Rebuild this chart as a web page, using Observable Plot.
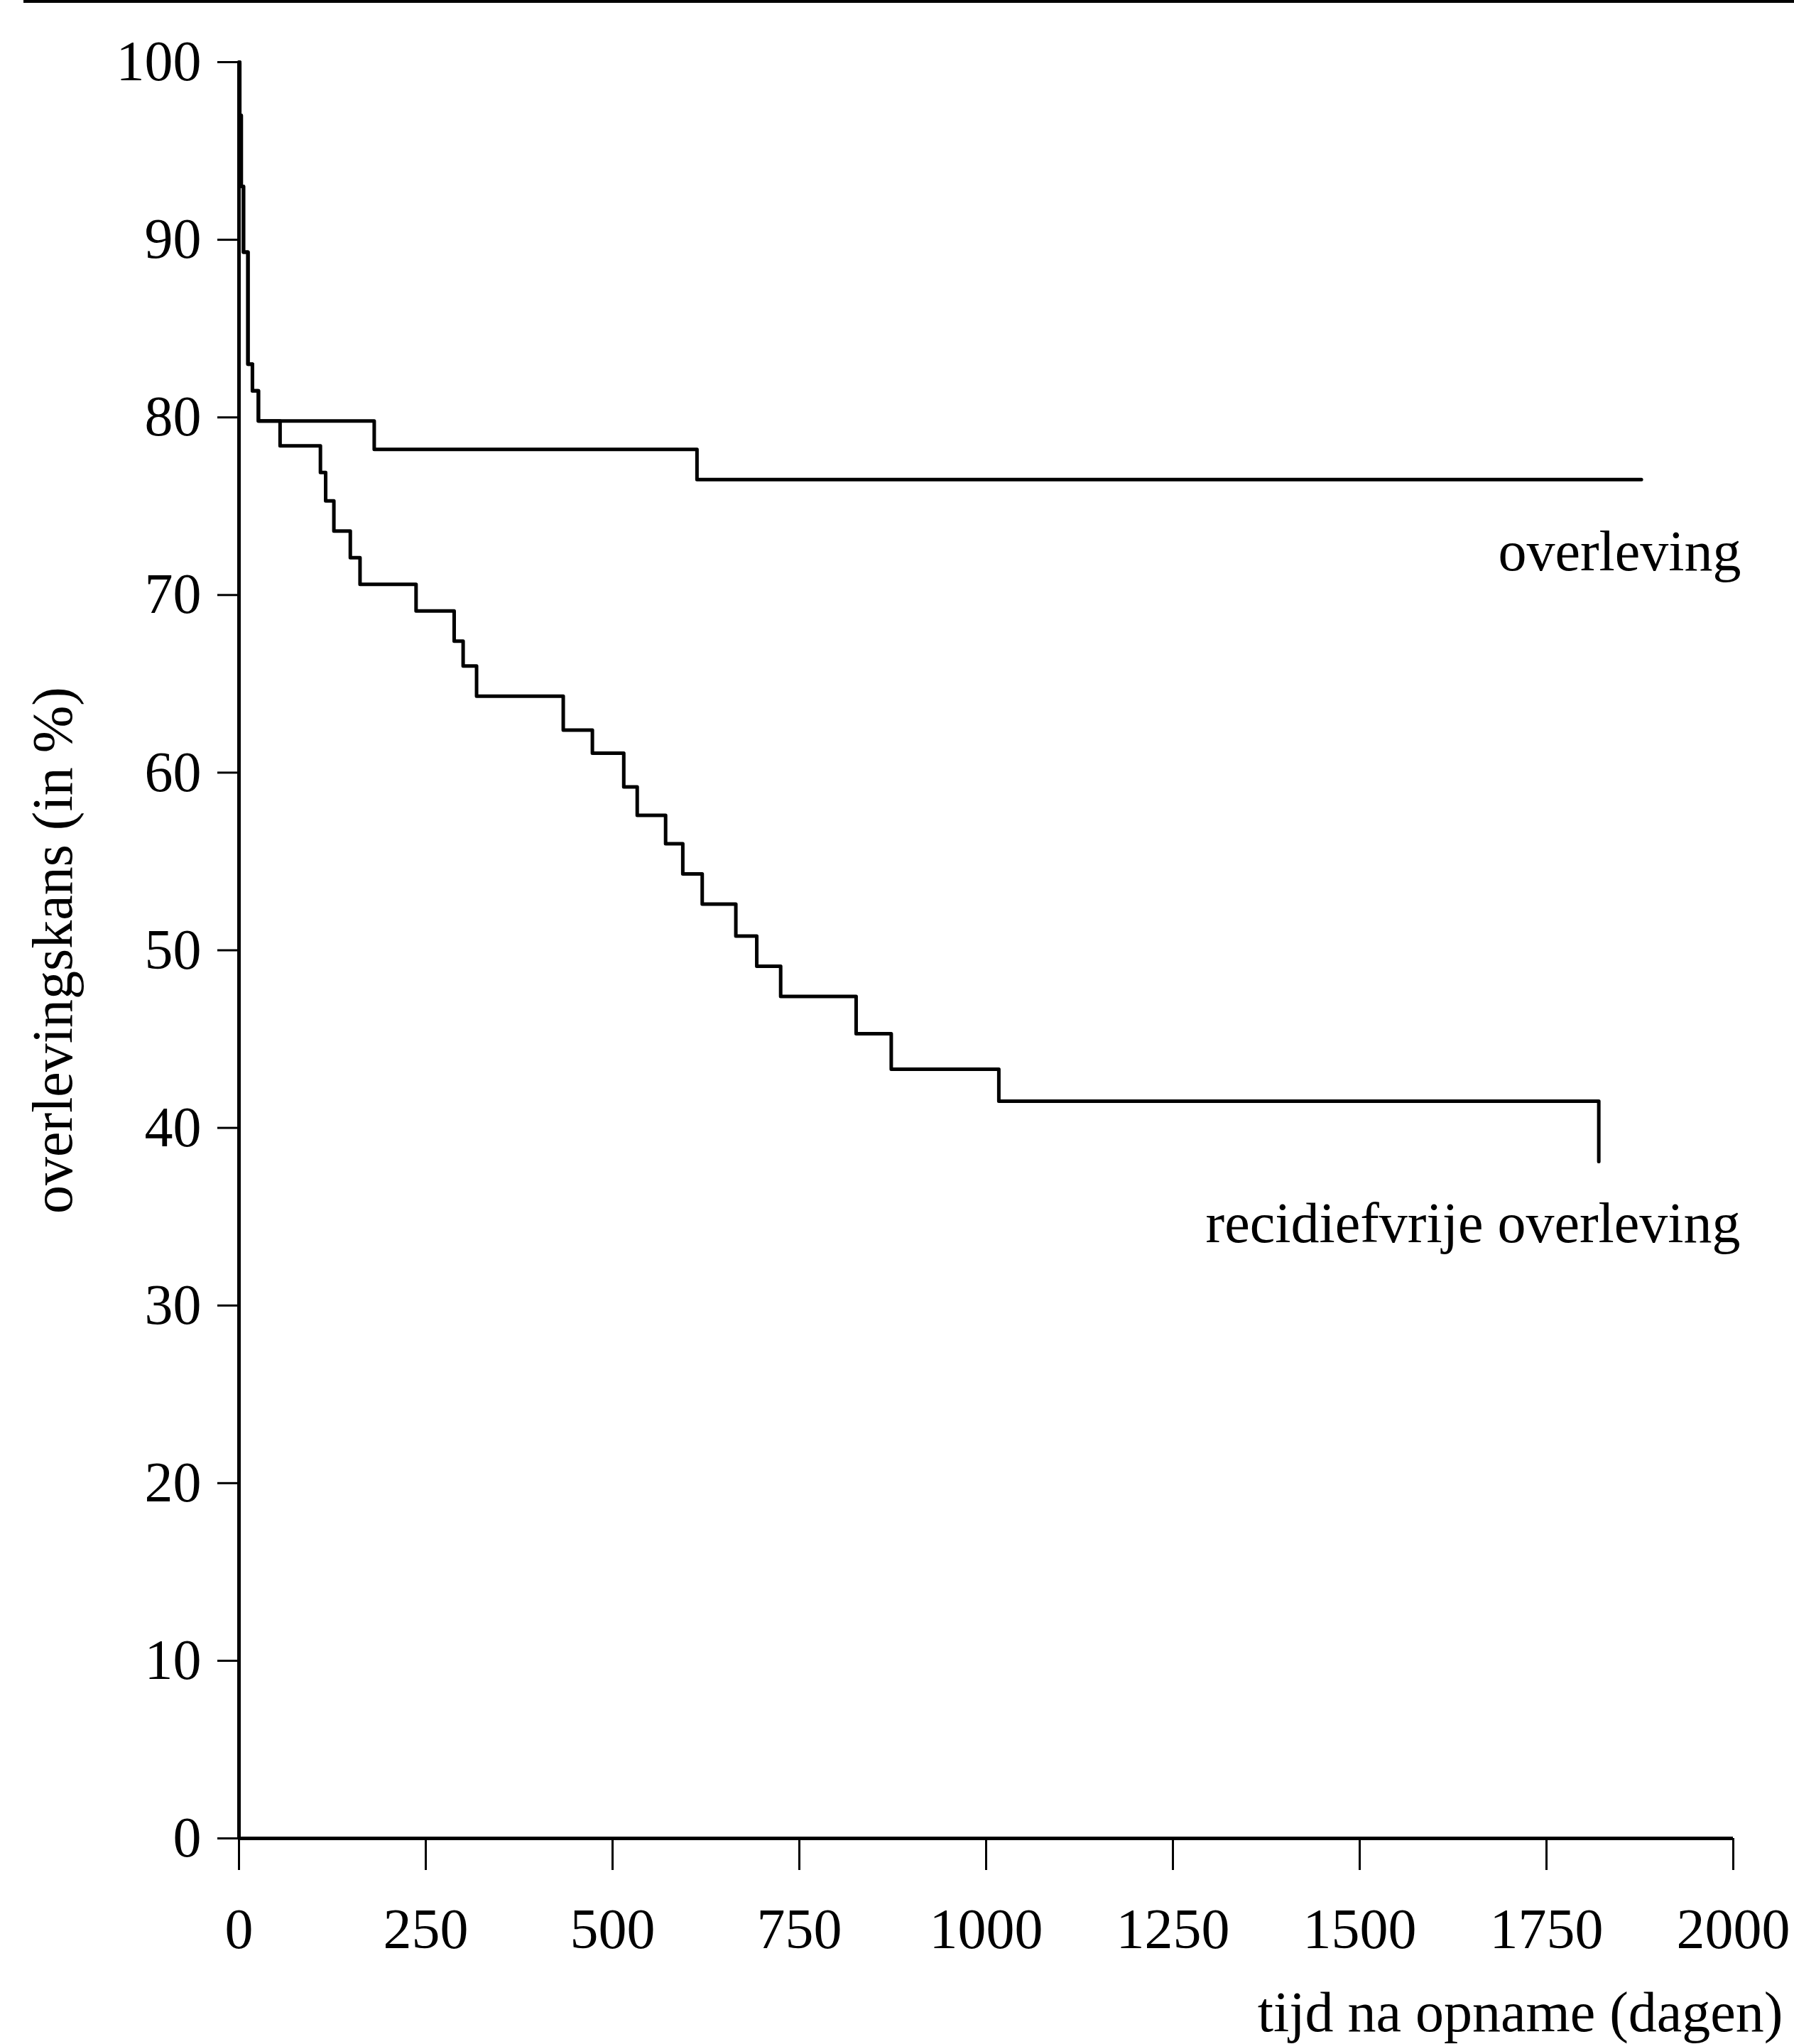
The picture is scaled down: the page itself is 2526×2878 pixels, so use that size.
<!DOCTYPE html>
<html>
<head>
<meta charset="utf-8">
<script src="https://cdn.jsdelivr.net/npm/d3@7"></script>
<script src="https://cdn.jsdelivr.net/npm/@observablehq/plot@0.6"></script>
<style>
  html, body { margin: 0; padding: 0; background: #fff; overflow: hidden; }
  #wrap { position: relative; width: 2526px; height: 2878px; }
  #pagerule { position: absolute; left: 33px; right: 0; top: 0; height: 4px; background: #000; }
  svg { display: block; }
</style>
</head>
<body>
<div id="wrap"><div id="pagerule"></div><div id="chart"></div></div>
<script>
// ---- data ----
const overlevingDays = [0, 1, 3, 6, 12, 18, 26, 181, 613, 1877];
const overlevingPct  = [100, 97, 93, 89.3, 83, 81.5, 79.8, 78.2, 76.5, 76.5];

const recidiefDays = [0, 1, 3, 6, 12, 18, 26, 55, 109, 116, 127, 149, 162, 237, 288, 300, 318,
                      434, 473, 515, 533, 571, 594, 620, 665, 693, 725, 826, 873, 1017, 1820];
const recidiefPct  = [100, 97, 93, 89.3, 83, 81.5, 79.8, 78.4, 76.9, 75.3, 73.6, 72.1, 70.6, 69.1, 67.4, 66.0, 64.3,
                      62.4, 61.1, 59.2, 57.6, 56.0, 54.3, 52.6, 50.8, 49.1, 47.4, 45.3, 43.3, 41.5, 38.1];

const seriesNames = ["overleving", "recidiefvrije overleving"];
const xTicks = [0, 250, 500, 750, 1000, 1250, 1500, 1750, 2000];
const xTickLabels = ["0", "250", "500", "750", "1000", "1250", "1500", "1750", "2000"];
const yTicks = [0, 10, 20, 30, 40, 50, 60, 70, 80, 90, 100];
const yTickLabels = ["0", "10", "20", "30", "40", "50", "60", "70", "80", "90", "100"];
const xTitle = "tijd na opname (dagen)";
const yTitle = "overlevingskans (in %)";

// ---- build table ----
const rows = [
  ...overlevingDays.map((d, i) => ({serie: seriesNames[0], dag: d, pct: overlevingPct[i]})),
  ...recidiefDays.map((d, i) => ({serie: seriesNames[1], dag: d, pct: recidiefPct[i]}))
];

const FONT = "'Liberation Serif', 'DejaVu Serif', serif";

const chart = Plot.plot({
  width: 2526,
  height: 2878,
  marginLeft: 336,
  marginRight: 86,
  marginTop: 87,
  marginBottom: 290,
  style: {fontFamily: FONT, fontSize: "80px", background: "#fff", color: "#000"},
  x: {domain: [0, 2000]},
  y: {domain: [0, 100]},
  marks: [
    Plot.ruleY([0], {stroke: "#000", strokeWidth: 5}),
    Plot.ruleX([0], {stroke: "#000", strokeWidth: 5}),
    Plot.axisX({
      ticks: xTicks, tickSize: 45, tickPadding: 53, strokeWidth: 3,
      tickFormat: (d) => xTickLabels[xTicks.indexOf(d)],
      fontSize: 80, label: null
    }),
    Plot.axisY({
      ticks: yTicks, tickSize: 30, tickPadding: 23, strokeWidth: 3,
      tickFormat: (d) => yTickLabels[yTicks.indexOf(d)],
      fontSize: 80, label: null
    }),
    Plot.line(rows, {
      x: "dag", y: "pct", z: "serie",
      curve: "step-after", stroke: "#000", strokeWidth: 5
    }),
    Plot.text([seriesNames[0]], {
      frameAnchor: "right", y: () => 72.4, dx: 11,
      textAnchor: "end", lineAnchor: "middle", fontSize: 80, fill: "#000"
    }),
    Plot.text([seriesNames[1]], {
      frameAnchor: "right", y: () => 34.6, dx: 10,
      textAnchor: "end", lineAnchor: "middle", fontSize: 80, fill: "#000"
    }),
    Plot.text([yTitle], {
      frameAnchor: "left", y: () => 50, dx: -261, rotate: -90,
      textAnchor: "middle", lineAnchor: "middle", fontSize: 80, fill: "#000"
    }),
    Plot.text([xTitle], {
      frameAnchor: "bottom-right", dx: 70, dy: 246,
      textAnchor: "end", lineAnchor: "middle", fontSize: 80, fill: "#000"
    })
  ]
});
document.getElementById("chart").appendChild(chart);
</script>
</body>
</html>
